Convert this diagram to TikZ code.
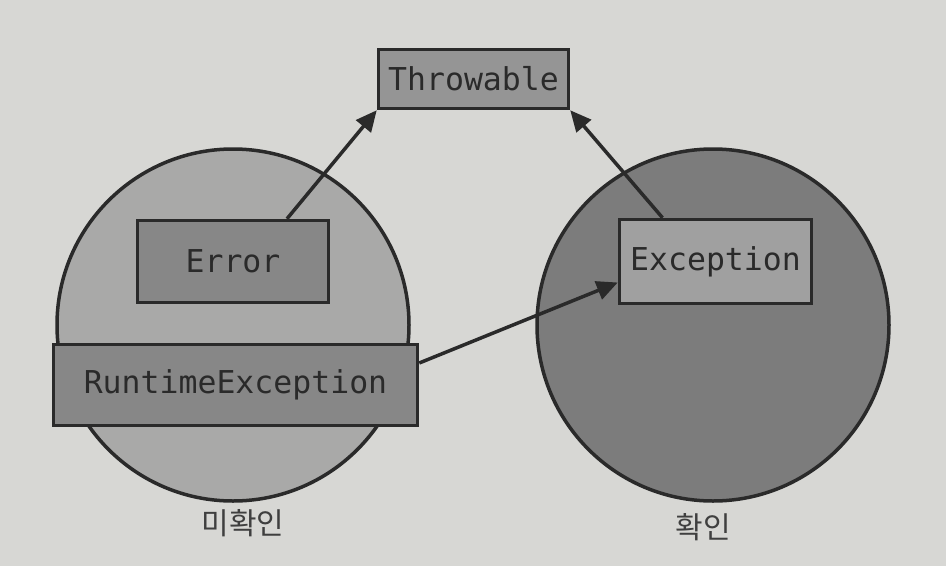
\documentclass[tikz,border=0pt]{standalone}
\usepackage{fontspec}
\setmonofont{DejaVu Sans Mono}
\newfontfamily\krfont{Noto Sans CJK KR}
\usetikzlibrary{arrows, arrows.meta}
\usetikzlibrary{positioning}

\definecolor{paper}{HTML}{D7D7D4}
\definecolor{ink}{HTML}{2A2A2A}
\definecolor{lightset}{HTML}{A9A9A8}
\definecolor{darkset}{HTML}{7C7C7C}
\definecolor{boxmid}{HTML}{959595}
\definecolor{boxdark}{HTML}{878787}
\definecolor{boxlight}{HTML}{A0A0A0}

\begin{document}
\begin{tikzpicture}[x=1pt, y=-1pt, line width=3.5pt,
  setcirc/.style={draw=ink, circle, minimum size=352pt, inner sep=0pt},
  cls/.style={draw=ink, rectangle, inner sep=0pt, text=ink,
    font=\ttfamily\fontsize{31.5}{31.5}\selectfont},
  tag/.style={text=ink!90, font=\krfont\fontsize{30}{30}\selectfont},
  inherit/.style={draw=ink, -{Triangle[length=21pt,width=19pt]}}]
\useasboundingbox (0,0) rectangle (946,566);
\fill [paper] (0,0) rectangle (946,566);
% the two sets
\node [setcirc, fill=lightset] (unchecked) at (233,325) {};
\node [setcirc, fill=darkset] (checked) at (713,325) {};
\node [tag] (uncheckedlbl) at (243,523) {미확인};
\node [tag] (checkedlbl) at (703,527) {확인};
% classes
\node [cls, fill=boxmid, minimum width=190pt, minimum height=59pt] (throwable) at (473.5,79) {Throwable};
\node [cls, fill=boxdark, minimum width=191pt, minimum height=82pt] (error) at (233,261.5) {Error};
\node [cls, fill=boxdark, minimum width=364pt, minimum height=81pt] (runtime) at (235.5,385) {RuntimeException};
\node [cls, fill=boxlight, minimum width=192pt, minimum height=84pt] (exception) at (715.5,261.5) {Exception};
% inheritance
\draw [inherit] ([xshift=54pt]error.north) -- (throwable.south west);
\draw [inherit] ([xshift=-53pt]exception.north) -- (throwable.south east);
\draw [inherit] ([yshift=22pt]runtime.east) -- ([yshift=-21pt]exception.west);
\end{tikzpicture}
\end{document}
